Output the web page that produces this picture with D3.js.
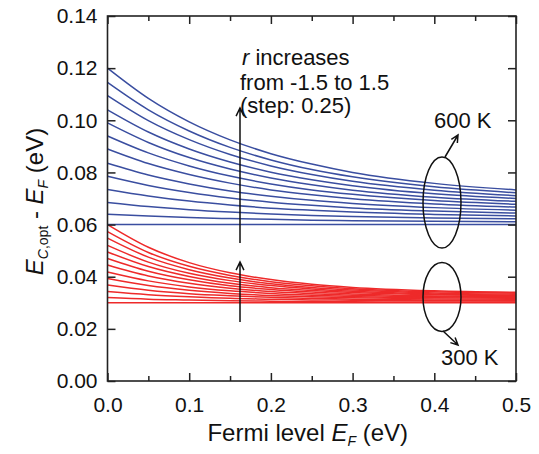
<!DOCTYPE html>
<html>
<head>
<meta charset="utf-8">
<script src="https://cdn.jsdelivr.net/npm/d3@7"></script>
<style>
  body { margin: 0; background: #fff; }
  svg { display: block; font-family: "Liberation Sans", Arial, sans-serif; }
</style>
</head>
<body>
<div id="chart"></div>
<script>
// Fermi level sample points (eV)
const fermiLevels = [0, 0.05, 0.1, 0.15, 0.2, 0.25, 0.3, 0.4, 0.5];
const rValues = [-1.5, -1.25, -1, -0.75, -0.5, -0.25, 0, 0.25, 0.5, 0.75, 1, 1.25, 1.5];

// E_C,opt - E_F (eV) at 600 K, one row per r
const curves600K = [
  [0.0600, 0.0600, 0.0600, 0.0600, 0.0600, 0.0600, 0.0600, 0.0600, 0.0600],
  [0.0640, 0.0633, 0.0627, 0.0623, 0.0620, 0.0617, 0.0615, 0.0613, 0.0611],
  [0.0685, 0.0669, 0.0657, 0.0648, 0.0641, 0.0635, 0.0631, 0.0625, 0.0622],
  [0.0735, 0.0710, 0.0690, 0.0675, 0.0663, 0.0655, 0.0648, 0.0639, 0.0633],
  [0.0785, 0.0750, 0.0723, 0.0702, 0.0686, 0.0674, 0.0664, 0.0652, 0.0644],
  [0.0835, 0.0790, 0.0756, 0.0729, 0.0709, 0.0693, 0.0681, 0.0665, 0.0655],
  [0.0890, 0.0834, 0.0792, 0.0759, 0.0733, 0.0714, 0.0699, 0.0679, 0.0667],
  [0.0940, 0.0875, 0.0825, 0.0786, 0.0756, 0.0733, 0.0716, 0.0692, 0.0678],
  [0.0990, 0.0915, 0.0857, 0.0813, 0.0779, 0.0753, 0.0732, 0.0705, 0.0689],
  [0.1040, 0.0955, 0.0890, 0.0840, 0.0801, 0.0772, 0.0749, 0.0718, 0.0700],
  [0.1095, 0.0999, 0.0926, 0.0869, 0.0825, 0.0792, 0.0766, 0.0732, 0.0711],
  [0.1145, 0.1040, 0.0959, 0.0896, 0.0848, 0.0811, 0.0783, 0.0745, 0.0722],
  [0.1200, 0.1084, 0.0994, 0.0925, 0.0872, 0.0832, 0.0800, 0.0758, 0.0733]
];

// E_C,opt - E_F (eV) at 300 K, one row per r
const curves300K = [
  [0.0300, 0.0300, 0.0300, 0.0300, 0.0300, 0.0300, 0.0300, 0.0300, 0.0300],
  [0.0320, 0.0314, 0.0311, 0.0308, 0.0306, 0.0305, 0.0304, 0.0303, 0.0303],
  [0.0343, 0.0331, 0.0323, 0.0317, 0.0314, 0.0311, 0.0310, 0.0308, 0.0307],
  [0.0368, 0.0348, 0.0335, 0.0327, 0.0321, 0.0317, 0.0314, 0.0311, 0.0310],
  [0.0393, 0.0366, 0.0348, 0.0336, 0.0328, 0.0323, 0.0319, 0.0315, 0.0313],
  [0.0418, 0.0384, 0.0361, 0.0346, 0.0336, 0.0329, 0.0324, 0.0319, 0.0317],
  [0.0445, 0.0403, 0.0375, 0.0356, 0.0343, 0.0335, 0.0329, 0.0323, 0.0320],
  [0.0470, 0.0421, 0.0388, 0.0365, 0.0351, 0.0341, 0.0334, 0.0326, 0.0323],
  [0.0495, 0.0439, 0.0401, 0.0375, 0.0358, 0.0347, 0.0339, 0.0331, 0.0327],
  [0.0520, 0.0456, 0.0413, 0.0385, 0.0366, 0.0353, 0.0344, 0.0334, 0.0330],
  [0.0548, 0.0475, 0.0427, 0.0395, 0.0373, 0.0359, 0.0349, 0.0338, 0.0333],
  [0.0573, 0.0493, 0.0440, 0.0405, 0.0381, 0.0365, 0.0354, 0.0342, 0.0337],
  [0.0600, 0.0513, 0.0454, 0.0415, 0.0389, 0.0371, 0.0359, 0.0346, 0.0340]
];

const xTicks = [0, 0.1, 0.2, 0.3, 0.4, 0.5];
const xMinorTicks = [0.05, 0.15, 0.25, 0.35, 0.45];
const yTicks = [0, 0.02, 0.04, 0.06, 0.08, 0.10, 0.12, 0.14];

const W = 539, H = 454;
const margin = {top: 16, right: 23, bottom: 73, left: 107.5};
const iw = W - margin.left - margin.right;
const ih = H - margin.top - margin.bottom;

const svg = d3.select("#chart").append("svg")
  .attr("width", W).attr("height", H);

const g = svg.append("g").attr("transform", `translate(${margin.left},${margin.top})`);

const x = d3.scaleLinear().domain([0, 0.5]).range([0, iw]);
const y = d3.scaleLinear().domain([0, 0.14]).range([ih, 0]);

svg.append("defs").append("clipPath").attr("id", "clip")
  .append("rect").attr("width", iw).attr("height", ih);

const line = d3.line()
  .x((d, i) => x(fermiLevels[i]))
  .y(d => y(d))
  .curve(d3.curveMonotoneX);

const plot = g.append("g").attr("clip-path", "url(#clip)");

plot.selectAll(".c300").data(curves300K).enter().append("path")
  .attr("class", "c300")
  .attr("d", line)
  .attr("fill", "none")
  .attr("stroke", "#ee2a2a")
  .attr("stroke-width", 1.5);

plot.selectAll(".c600").data(curves600K).enter().append("path")
  .attr("class", "c600")
  .attr("d", line)
  .attr("fill", "none")
  .attr("stroke", "#3a4ea0")
  .attr("stroke-width", 1.5);

// axes
const axisColor = "#222";
function styleAxis(sel) {
  sel.select(".domain").remove();
  sel.selectAll("line").attr("stroke", axisColor).attr("stroke-width", 1.5);
  sel.selectAll("text").attr("fill", "#111").style("font-size", "21px");
}

g.append("g").attr("transform", `translate(0,${ih})`)
  .call(d3.axisBottom(x).tickValues(xTicks).tickFormat(d3.format(".1f")).tickSizeInner(-8).tickSizeOuter(0).tickPadding(16))
  .call(styleAxis);
g.append("g").attr("transform", `translate(0,${ih})`)
  .call(d3.axisBottom(x).tickValues(xMinorTicks).tickFormat("").tickSizeInner(-5).tickSizeOuter(0))
  .call(styleAxis);
g.append("g")
  .call(d3.axisTop(x).tickValues(xTicks).tickFormat("").tickSizeInner(-8).tickSizeOuter(0))
  .call(styleAxis);
g.append("g")
  .call(d3.axisTop(x).tickValues(xMinorTicks).tickFormat("").tickSizeInner(-5).tickSizeOuter(0))
  .call(styleAxis);
g.append("g")
  .call(d3.axisLeft(y).tickValues(yTicks).tickFormat(d3.format(".2f")).tickSizeInner(-8).tickSizeOuter(0).tickPadding(10))
  .call(styleAxis);
g.append("g").attr("transform", `translate(${iw},0)`)
  .call(d3.axisRight(y).tickValues(yTicks).tickFormat("").tickSizeInner(-8).tickSizeOuter(0))
  .call(styleAxis);

g.append("rect").attr("width", iw).attr("height", ih)
  .attr("fill", "none").attr("stroke", axisColor).attr("stroke-width", 1.6);

// axis titles
const xt = svg.append("text")
  .attr("x", margin.left + iw / 2 - 4).attr("y", 441)
  .attr("text-anchor", "middle").style("font-size", "24px").attr("fill", "#111");
xt.append("tspan").text("Fermi level ");
xt.append("tspan").attr("font-style", "italic").text("E");
xt.append("tspan").attr("font-style", "italic").attr("font-size", "14px").attr("dy", 5).text("F");
xt.append("tspan").attr("dy", -5).text(" (eV)");

const yt = svg.append("text")
  .attr("transform", `translate(43,${margin.top + ih / 2 + 3}) rotate(-90)`)
  .attr("text-anchor", "middle").style("font-size", "24px").attr("fill", "#111");
yt.append("tspan").attr("font-style", "italic").text("E");
yt.append("tspan").attr("font-style", "italic").attr("font-size", "14px").attr("dy", 5).text("C");
yt.append("tspan").attr("font-size", "14px").text(",opt");
yt.append("tspan").attr("dy", -5).text(" - ");
yt.append("tspan").attr("font-style", "italic").text("E");
yt.append("tspan").attr("font-style", "italic").attr("font-size", "14px").attr("dy", 5).text("F");
yt.append("tspan").attr("dy", -5).text(" (eV)");

// annotations
const ann = svg.append("g").attr("fill", "#111").style("font-size", "22px");
const t1 = ann.append("text").attr("x", 242).attr("y", 65);
t1.append("tspan").attr("font-style", "italic").text("r");
t1.append("tspan").text(" increases");
ann.append("text").attr("x", 240).attr("y", 90).text("from -1.5 to 1.5");
ann.append("text").attr("x", 240).attr("y", 113).text("(step: 0.25)");
ann.append("text").attr("x", 434).attr("y", 128).text("600 K");
ann.append("text").attr("x", 441).attr("y", 365).text("300 K");

const strokeAnn = {stroke: "#111", "stroke-width": 1.5, fill: "none"};
function arrow(x1, y1, x2, y2, head) {
  const a = Math.atan2(y2 - y1, x2 - x1);
  const p = svg.append("path")
    .attr("d", `M${x1},${y1}L${x2},${y2}` +
      `M${x2 - head * Math.cos(a - 0.45)},${y2 - head * Math.sin(a - 0.45)}L${x2},${y2}` +
      `L${x2 - head * Math.cos(a + 0.45)},${y2 - head * Math.sin(a + 0.45)}`);
  Object.entries(strokeAnn).forEach(([k, v]) => p.attr(k, v));
}
arrow(240, 243, 240, 108, 9);
arrow(240, 322, 240, 262, 9);
arrow(445, 157, 458, 135, 8);
arrow(443, 331, 458, 345, 8);

[[442, 202.5, 19, 45.5], [442, 297, 19, 34.5]].forEach(([cx, cy, rx, ry]) => {
  const e = svg.append("ellipse").attr("cx", cx).attr("cy", cy).attr("rx", rx).attr("ry", ry);
  Object.entries(strokeAnn).forEach(([k, v]) => e.attr(k, v));
});
</script>
</body>
</html>
